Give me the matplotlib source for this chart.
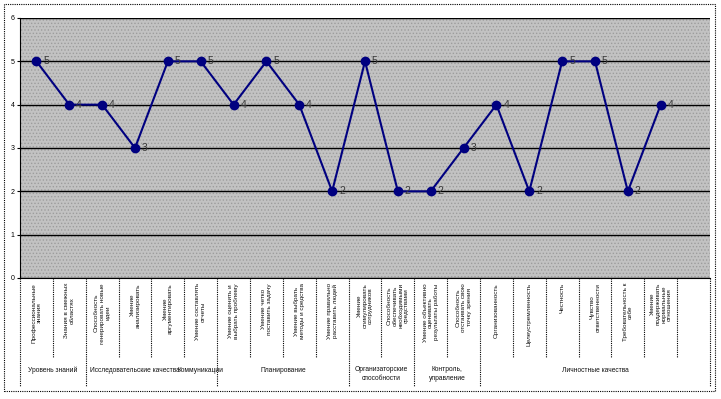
import matplotlib
matplotlib.use('Agg')
import matplotlib.pyplot as plt
from matplotlib.transforms import blended_transform_factory
from matplotlib.patches import Rectangle
from matplotlib.lines import Line2D

plt.rcParams['font.family'] = ['Liberation Sans', 'DejaVu Sans']
plt.rcParams['hatch.linewidth'] = 0.6

# categories (bottom level of the axis)
categories = [
    'Профессиональные\nзнания',
    'Знания в смежных\nобластях',
    'Способность\nгенерировать новые\nидеи',
    'Умение\nанализировать',
    'Умение\nаргументировать',
    'Умение составлять\nотчеты',
    'Умение оценить и\nвыбрать проблему',
    'Умение четко\nпоставить задачу',
    'Умение выбрать\nметоды и средства',
    'Умение правильно\nрасставить людей',
    'Умение\nстимулировать\nсотрудников',
    'Способность\nобеспечивать\nнеобходимыми\nсредствами',
    'Умение объективно\nоценивать\nрезультаты работы',
    'Способность\nотстаивать свою\nточку зрения',
    'Организованность',
    'Целеустремленность',
    'Честность',
    'Чувство\nответственности',
    'Требовательность к\nсебе',
    'Умение\nподдерживать\nнормальные\nотношения',
    '',
]
values = [5, 4, 4, 3, 5, 5, 4, 5, 4, 2, 5, 2, 2, 3, 4, 2, 5, 5, 2, 4]

# groups (top level of the axis): name, first index, last index
groups = ['Уровень знаний', 'Исследовательские качества', 'Коммуникации',
          'Планирование', 'Организаторские\nспособности',
          'Контроль,\nуправление', 'Личностные качества']
group_start = [0, 2, 5, 6, 10, 12, 14]
group_end = [1, 4, 5, 9, 11, 13, 20]
group_lines = [-0.5, 1.5, 5.5, 9.5, 11.5, 13.5, 20.5]

W, H = 721, 399
fig = plt.figure(figsize=(W / 100, H / 100), dpi=100, facecolor='white')

left, right, top, bottom = 20, 710, 18, 278
ax = fig.add_axes([left / W, 1 - bottom / H, (right - left) / W, (bottom - top) / H])
ax.set_facecolor('#c2c2c2')
ax.add_patch(Rectangle((0, 0), 1, 1, transform=ax.transAxes, facecolor='none',
                       edgecolor='#9c9c9c', hatch='.....', lw=0, zorder=0))

n = len(categories)
x = list(range(len(values)))
ax.set_xlim(-0.5, n - 0.5)
ax.set_ylim(0, 6)
ax.set_yticks(range(7))
ax.yaxis.grid(True, color='black', lw=1)
ax.set_axisbelow(True)
ax.set_xticks([])
for s in ['top', 'right']:
    ax.spines[s].set_visible(False)
ax.spines['left'].set_linewidth(0.8)
ax.spines['bottom'].set_linewidth(0.8)
ax.tick_params(axis='y', labelsize=5, length=2, width=0.8, pad=2)

ax.plot(x, values, color='#000080', lw=1.5, marker='o', ms=6, zorder=3)
for xi, v in zip(x, values):
    ax.annotate(str(v), (xi, v), xytext=(5, 0), textcoords='offset points',
                va='center', ha='left', fontsize=7.5, color='#3a3a3a', zorder=4)

# multi-level category axis below the plot
tr = blended_transform_factory(ax.transData, fig.transFigure)
fy = lambda px: 1 - px / H
dot = (0, (1, 1))
for b in [i - 0.5 for i in range(n + 1)]:
    if b in group_lines:
        continue
    fig.add_artist(Line2D([b, b], [fy(278), fy(358)], transform=tr, color='black',
                          lw=0.8, ls=dot))
for b in group_lines:
    fig.add_artist(Line2D([b, b], [fy(278), fy(386)], transform=tr, color='black',
                          lw=0.8, ls=dot))

for i, lab in enumerate(categories):
    fig.text(i, fy(283), lab, transform=tr, rotation=90, ha='center', va='top',
             fontsize=4.6, color='#111111', linespacing=1.15)

for g, s, e in zip(groups, group_start, group_end):
    gy = 370 if '\n' not in g else 374
    fig.text((s + e) / 2, fy(gy), g, transform=tr, ha='center', va='center',
             fontsize=4.8, color='#111111', linespacing=1.5)

# dotted chart border
fig.add_artist(Rectangle((4 / W, 1 - 391 / H), 711 / W, 387 / H, transform=fig.transFigure,
                         fill=False, edgecolor='black', lw=0.8, ls=dot))

fig.savefig('out.png', dpi=100, facecolor='white')
